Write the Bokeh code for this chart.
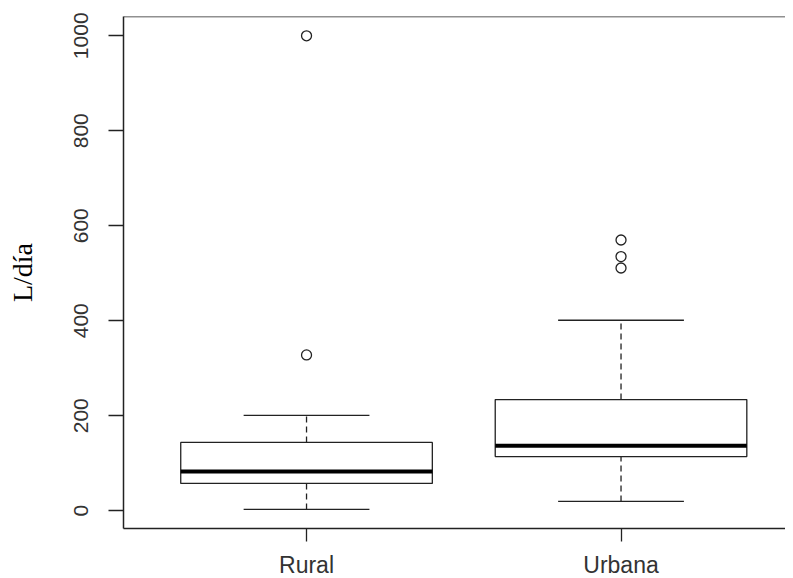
from bokeh.plotting import figure
from bokeh.models import Range1d, FixedTicker, Span
from bokeh.embed import file_html
from bokeh.resources import INLINE

# ---- data ----
categories = ["Rural", "Urbana"]
positions = [1, 2]
lower_whisker = [2.7, 19.6]
q1 = [57.5, 114]
median = [82.7, 137]
q3 = [143.8, 234]
upper_whisker = [200.6, 401]
outliers_rural = [328, 1000]
outliers_urbana = [511, 535, 570]
y_ticks = [0, 200, 400, 600, 800, 1000]

box_half = 0.4
staple_half = 0.2

p = figure(
    frame_width=662, frame_height=512,
    x_range=Range1d(0.418, 2.523), y_range=Range1d(-37.5, 1040.6),
    output_backend="svg", toolbar_location=None,
    min_border_left=123, min_border_right=0, min_border_top=16, min_border_bottom=0,
)
p.background_fill_color = "white"
p.border_fill_color = "white"
p.outline_line_color = None
p.xgrid.visible = False
p.ygrid.visible = False

line_col = "#222222"
txt_col = "#333333"

# whiskers (dashed)
p.segment(x0=positions, y0=q3, x1=positions, y1=upper_whisker,
          line_color=line_col, line_width=1.3, line_dash="6 4")
p.segment(x0=positions, y0=lower_whisker, x1=positions, y1=q1,
          line_color=line_col, line_width=1.3, line_dash="6 4")
# staples
p.segment(x0=[x - staple_half for x in positions], y0=upper_whisker,
          x1=[x + staple_half for x in positions], y1=upper_whisker,
          line_color=line_col, line_width=1.3)
p.segment(x0=[x - staple_half for x in positions], y0=lower_whisker,
          x1=[x + staple_half for x in positions], y1=lower_whisker,
          line_color=line_col, line_width=1.3)
# boxes
p.quad(left=[x - box_half for x in positions], right=[x + box_half for x in positions],
       bottom=q1, top=q3, fill_color="white", line_color=line_col, line_width=1.3)
# medians
p.segment(x0=[x - box_half for x in positions], y0=median,
          x1=[x + box_half for x in positions], y1=median,
          line_color="black", line_width=4)
# outliers
p.scatter(x=[1] * len(outliers_rural), y=outliers_rural, marker="circle", size=10,
          fill_color=None, line_color=line_col, line_width=1.3)
p.scatter(x=[2] * len(outliers_urbana), y=outliers_urbana, marker="circle", size=10,
          fill_color=None, line_color=line_col, line_width=1.3)

# top border
p.add_layout(Span(location=1040.6, dimension="width", line_color=line_col, line_width=1.5))

# x axis
xa = p.xaxis[0]
xa.ticker = FixedTicker(ticks=positions)
xa.major_label_overrides = {1: categories[0], 2: categories[1]}
xa.major_tick_out = 13
xa.major_tick_in = 0
xa.minor_tick_line_color = None
xa.axis_line_color = line_col
xa.axis_line_width = 1.5
xa.major_tick_line_color = line_col
xa.major_tick_line_width = 1.3
xa.major_label_text_font = "Liberation Sans"
xa.major_label_text_font_size = "23px"
xa.major_label_text_color = txt_col
xa.major_label_standoff = 10

# y axis
ya = p.yaxis[0]
ya.ticker = FixedTicker(ticks=y_ticks)
ya.major_tick_out = 15
ya.major_tick_in = 0
ya.minor_tick_line_color = None
ya.axis_line_color = line_col
ya.axis_line_width = 1.5
ya.major_tick_line_color = line_col
ya.major_tick_line_width = 1.3
ya.major_label_orientation = "vertical"
ya.major_label_text_font = "Liberation Sans"
ya.major_label_text_font_size = "21px"
ya.major_label_text_color = txt_col
ya.major_label_standoff = 20
ya.axis_label = "L/día"
ya.axis_label_text_font = "Liberation Serif"
ya.axis_label_text_font_style = "normal"
ya.axis_label_text_font_size = "28px"
ya.axis_label_text_color = "black"
ya.axis_label_standoff = 34

open("out.html", "w").write(file_html(p, INLINE))
